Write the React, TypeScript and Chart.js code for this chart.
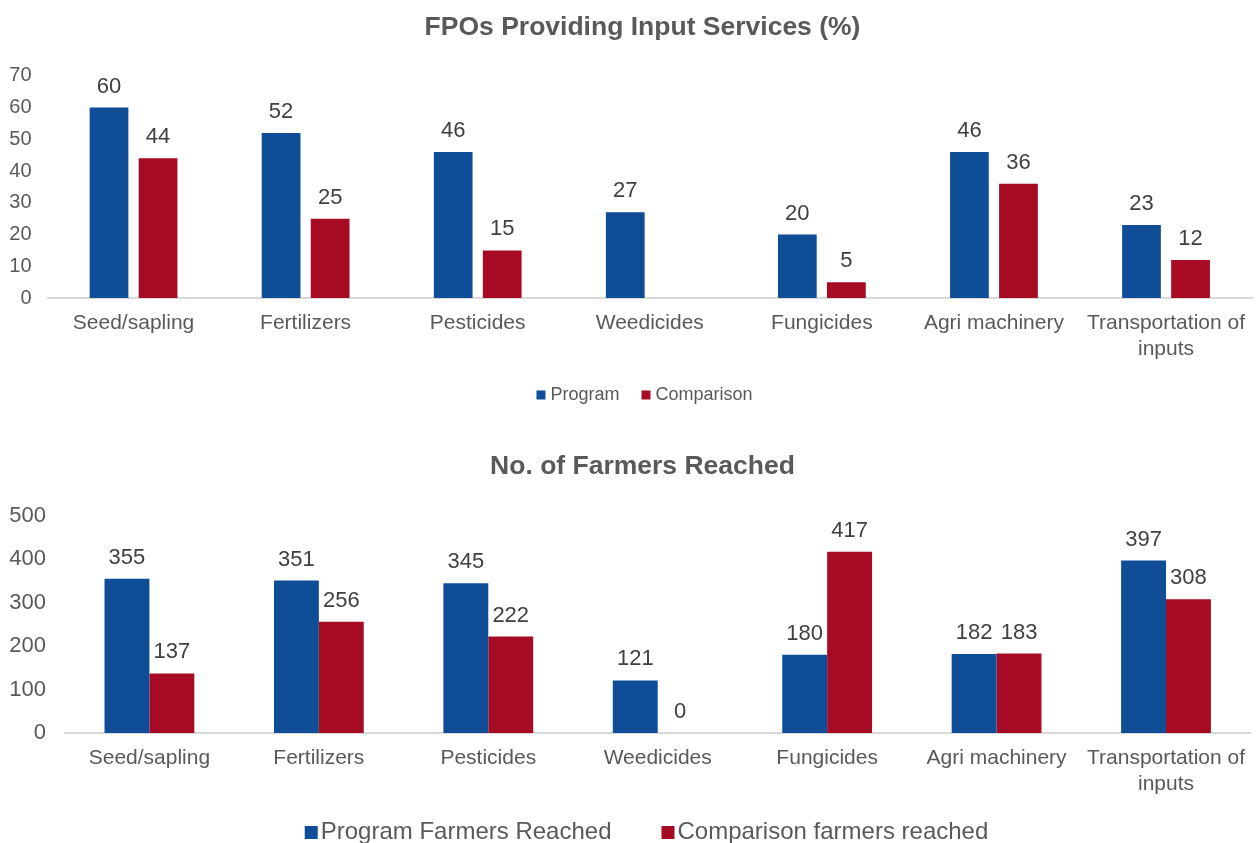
import React, { useEffect, useRef } from 'react';
import { Chart, registerables } from 'chart.js';

Chart.register(...registerables);

const FONT = '"Liberation Sans", Arial, Helvetica, sans-serif';

// ---------- data ----------
const categories: (string | string[])[] = [
  'Seed/sapling',
  'Fertilizers',
  'Pesticides',
  'Weedicides',
  'Fungicides',
  'Agri machinery',
  ['Transportation of', 'inputs'],
];

const fpoTitle = 'FPOs Providing Input Services (%)';
const fpoSeriesNames = ['Program', 'Comparison'];
const fpoProgram = [60, 52, 46, 27, 20, 46, 23];
const fpoComparison: (number | null)[] = [44, 25, 15, null, 5, 36, 12];
const fpoYMax = 70;
const fpoYStep = 10;

const farmersTitle = 'No. of Farmers Reached';
const farmersSeriesNames = ['Program Farmers Reached', 'Comparison farmers reached'];
const farmersProgram = [355, 351, 345, 121, 180, 182, 397];
const farmersComparison = [137, 256, 222, 0, 417, 183, 308];
const farmersYMax = 500;
const farmersYStep = 100;

// ---------- styles ----------
const BLUE = '#0F4D96';
const RED = '#A60B23';
const AXIS_TEXT = '#595959';
const LABEL_TEXT = '#404040';
const AXIS_LINE = '#D9D9D9';

const valueLabels = {
  id: 'valueLabels',
  afterDatasetsDraw(chart: any, _args: any, opts: any) {
    const { ctx } = chart;
    ctx.save();
    ctx.font = `${opts.size}px ${FONT}`;
    ctx.fillStyle = opts.color;
    ctx.textAlign = 'center';
    ctx.textBaseline = 'alphabetic';
    chart.data.datasets.forEach((ds: any, di: number) => {
      const meta = chart.getDatasetMeta(di);
      meta.data.forEach((el: any, i: number) => {
        const v = ds.data[i];
        if (v === null || v === undefined) return;
        ctx.fillText(String(v), el.x, el.y - opts.offset);
      });
    });
    ctx.restore();
  },
};

const customLegend = {
  id: 'customLegend',
  afterDraw(chart: any, _args: any, o: any) {
    const { ctx } = chart;
    ctx.save();
    ctx.font = `${o.size}px ${FONT}`;
    const items = chart.data.datasets.map((ds: any) => ({
      text: ds.label,
      color: ds.backgroundColor,
      w: ctx.measureText(ds.label).width,
    }));
    const total =
      items.reduce((s: number, it: any) => s + o.box + o.textGap + it.w, 0) +
      o.itemGap * (items.length - 1);
    let x = o.centerX - total / 2;
    const y = chart.height - o.fromBottom;
    ctx.textBaseline = 'middle';
    ctx.textAlign = 'left';
    items.forEach((it: any) => {
      ctx.fillStyle = it.color;
      ctx.fillRect(x, y - o.box / 2, o.box, o.box);
      x += o.box + o.textGap;
      ctx.fillStyle = o.color;
      ctx.fillText(it.text, x, y);
      x += it.w + o.itemGap;
    });
    ctx.restore();
  },
};

interface Spec {
  title: string;
  names: string[];
  a: (number | null)[];
  b: (number | null)[];
  yMax: number;
  yStep: number;
  titlePad: { top: number; bottom: number };
  yWidth: number;
  yTickSize: number;
  yTickGap: number;
  catPct: number;
  barPct: number;
  labelSize: number;
  legend: any;
  padBottom: number;
}

function makeConfig(s: Spec): any {
  // widest y tick label (digits are 0.556em wide in Liberation Sans)
  const widest = String(s.yMax).length * 0.5562 * s.yTickSize;
  return {
    type: 'bar',
    data: {
      labels: categories,
      datasets: [
        {
          label: s.names[0],
          data: s.a,
          backgroundColor: BLUE,
          categoryPercentage: s.catPct,
          barPercentage: s.barPct,
        },
        {
          label: s.names[1],
          data: s.b,
          backgroundColor: RED,
          categoryPercentage: s.catPct,
          barPercentage: s.barPct,
        },
      ],
    },
    plugins: [valueLabels, customLegend],
    options: {
      animation: false,
      responsive: true,
      maintainAspectRatio: false,
      layout: { padding: { left: 27, right: 0, top: 0, bottom: s.padBottom } },
      plugins: {
        legend: { display: false },
        tooltip: { enabled: false },
        title: {
          display: true,
          text: s.title,
          color: AXIS_TEXT,
          font: { family: FONT, size: 26.5, weight: 'bold' },
          padding: s.titlePad,
        },
        valueLabels: { size: s.labelSize, color: LABEL_TEXT, offset: 15 },
        customLegend: { ...s.legend, color: AXIS_TEXT },
      },
      scales: {
        x: {
          grid: { display: false, drawTicks: false },
          border: { display: true, color: AXIS_LINE, width: 2 },
          ticks: {
            color: AXIS_TEXT,
            font: { family: FONT, size: 21 },
            padding: 13,
            maxRotation: 0,
            minRotation: 0,
            autoSkip: false,
          },
        },
        y: {
          min: 0,
          max: s.yMax,
          grid: { display: false, drawTicks: false },
          border: { display: false },
          ticks: {
            stepSize: s.yStep,
            color: AXIS_TEXT,
            font: { family: FONT, size: s.yTickSize },
            mirror: true,
            crossAlign: 'far',
            padding: -(s.yTickGap + widest),
          },
          afterFit(scale: any) {
            scale.width = s.yWidth;
          },
        },
      },
    },
  };
}

function BarChart({ spec, height }: { spec: Spec; height: number }) {
  const ref = useRef<HTMLCanvasElement | null>(null);
  useEffect(() => {
    if (!ref.current) return;
    const chart = new Chart(ref.current, makeConfig(spec));
    return () => chart.destroy();
  }, [spec]);
  return (
    <div style={{ position: 'relative', width: 1258, height }}>
      <canvas ref={ref} />
    </div>
  );
}

const topSpec: Spec = {
  title: fpoTitle,
  names: fpoSeriesNames,
  a: fpoProgram,
  b: fpoComparison,
  yMax: fpoYMax,
  yStep: fpoYStep,
  titlePad: { top: 12, bottom: 32 },
  yWidth: 20.5,
  yTickSize: 20,
  yTickGap: 16,
  catPct: 0.57,
  barPct: 0.79,
  labelSize: 22,
  legend: { size: 18, box: 9, textGap: 5, itemGap: 22, centerX: 644.5, fromBottom: 25 },
  padBottom: 45.6,
};

const bottomSpec: Spec = {
  title: farmersTitle,
  names: farmersSeriesNames,
  a: farmersProgram,
  b: farmersComparison,
  yMax: farmersYMax,
  yStep: farmersYStep,
  titlePad: { top: 31, bottom: 33 },
  yWidth: 37.7,
  yTickSize: 22,
  yTickGap: 18.7,
  catPct: 0.53,
  barPct: 1,
  labelSize: 22,
  legend: { size: 24, box: 13, textGap: 3, itemGap: 50, centerX: 646.5, fromBottom: 10.5 },
  padBottom: 33.6,
};

export default function App() {
  return (
    <div
      style={{
        position: 'fixed',
        left: 0,
        top: 0,
        width: 1258,
        height: 843,
        overflow: 'hidden',
        background: '#ffffff',
      }}
    >
      <BarChart spec={topSpec} height={420} />
      <BarChart spec={bottomSpec} height={423} />
    </div>
  );
}
